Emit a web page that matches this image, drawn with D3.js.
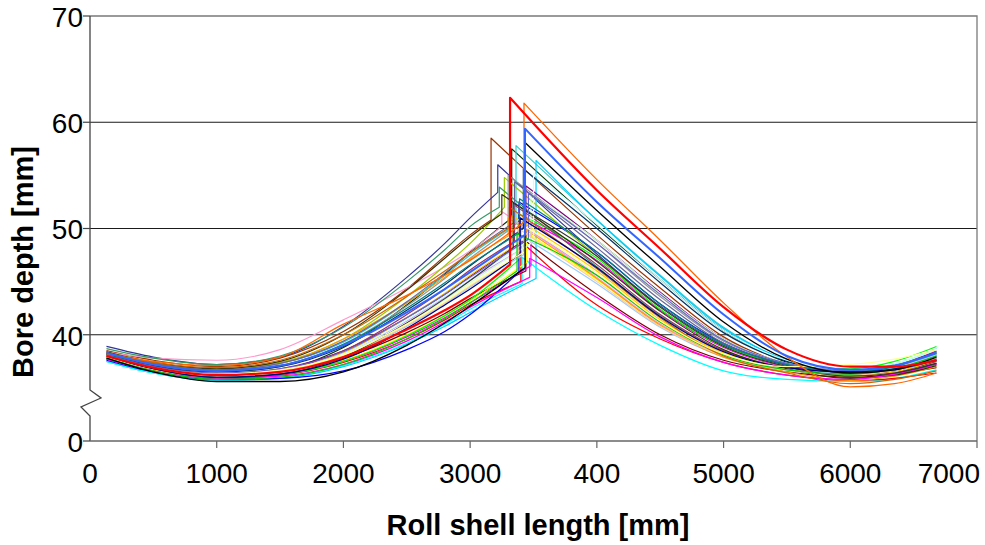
<!DOCTYPE html>
<html>
<head>
<meta charset="utf-8">
<script src="https://cdn.jsdelivr.net/npm/d3@7/dist/d3.min.js"></script>
<style>
  html, body { margin: 0; padding: 0; background: #fff; }
  svg { display: block; font-family: "Liberation Sans", Arial, sans-serif; }
</style>
</head>
<body>
<svg id="chart" width="985" height="545"></svg>
<script>
// Measurement positions along the roll shell [mm]
const leftX = [130, 500, 1000, 1500, 2000, 2500, 2800, 3000];
const rightX = [4000, 4500, 5000, 5500, 6000, 6350, 6680];

// Position of the step in each bore profile [mm] and depth just before / after it [mm]
const jumpX    = [3315, 3425, 3433, 3433, 3165, 3218, 3328, 3362, 3520, 3410,
                  3400, 3440, 3445, 3480, 3380, 3385, 3250, 3270, 3230, 3440,
                  3300, 3350, 3400, 3420, 3330, 3300, 3420, 3250, 3480, 3500,
                  3380, 3470, 3350, 3340, 3460, 3390, 3370, 3310, 3395, 3430];
const jumpLow  = [46.6, 50.6, 49.4, 46.3, 50.8, 53.4, 51.0, 50.4, 45.3, 44.8,
                  45.0, 46.0, 46.8, 46.5, 47.0, 45.9, 50.2, 52.0, 52.0, 49.0,
                  49.8, 48.8, 48.0, 47.5, 48.2, 49.3, 50.0, 51.4, 48.6, 49.2,
                  47.4, 45.4, 50.6, 48.2, 49.0, 49.6, 46.0, 50.1, 47.6, 47.8];
const jumpHigh = [62.3, 61.8, 59.4, 58.1, 58.5, 56.0, 57.5, 57.8, 56.4, 47.3,
                  48.8, 48.8, 49.6, 50.6, 51.4, 52.5, 51.6, 54.8, 53.9, 54.0,
                  55.0, 52.2, 50.4, 49.2, 51.2, 51.0, 55.6, 53.2, 53.2, 55.2,
                  50.0, 47.2, 54.4, 52.4, 53.4, 52.8, 49.5, 52.0, 51.0, 50.2];

// Bore depth [mm] at leftX, one row per roll
const leftDepth = [
  [38.0, 36.9, 36.2, 36.5, 37.9, 40.5, 42.3, 43.7],
  [38.2, 37.5, 37.1, 37.9, 41.0, 43.7, 45.6, 47.0],
  [38.3, 37.2, 36.6, 37.1, 39.0, 42.1, 44.3, 45.9],
  [37.8, 36.5, 35.6, 35.6, 36.5, 39.0, 41.1, 42.7],
  [38.5, 37.6, 37.0, 37.8, 40.3, 44.3, 47.4, 49.4],
  [38.9, 37.9, 37.2, 37.9, 40.8, 45.4, 48.6, 51.0],
  [38.2, 37.1, 36.3, 36.7, 38.8, 42.8, 45.7, 47.8],
  [38.3, 37.3, 36.7, 37.3, 39.3, 43.0, 45.6, 47.5],
  [37.5, 36.4, 35.7, 35.9, 37.0, 39.1, 40.8, 42.1],
  [37.5, 36.4, 35.7, 36.0, 37.1, 39.2, 41.0, 42.4],
  [37.7, 36.6, 35.9, 36.2, 37.4, 39.6, 41.4, 42.8],
  [37.9, 36.8, 36.1, 36.4, 37.8, 40.2, 42.0, 43.4],
  [37.8, 36.7, 36.0, 36.3, 37.6, 40.0, 41.8, 43.2],
  [37.9, 36.8, 36.1, 36.3, 37.5, 39.8, 41.6, 43.0],
  [38.1, 36.9, 36.1, 36.3, 37.5, 39.9, 41.8, 43.3],
  [37.6, 36.5, 35.8, 35.9, 36.6, 38.6, 40.3, 41.9],
  [38.4, 37.8, 37.6, 38.6, 41.4, 44.4, 46.4, 47.9],
  [38.4, 37.4, 36.8, 37.4, 39.6, 43.6, 46.5, 48.6],
  [38.7, 37.8, 37.2, 38.0, 40.7, 45.0, 48.0, 50.2],
  [38.0, 36.9, 36.3, 36.8, 38.5, 41.6, 43.8, 45.5],
  [38.2, 37.2, 36.5, 37.0, 39.1, 42.7, 45.3, 47.2],
  [38.1, 37.0, 36.3, 36.7, 38.5, 41.9, 44.3, 46.1],
  [38.0, 36.9, 36.2, 36.6, 38.2, 41.3, 43.5, 45.1],
  [37.9, 36.8, 36.1, 36.4, 37.9, 40.8, 42.9, 44.5],
  [38.0, 36.9, 36.2, 36.6, 38.3, 41.6, 43.9, 45.6],
  [38.3, 37.3, 36.7, 37.3, 39.6, 43.0, 45.4, 47.1],
  [38.2, 37.1, 36.5, 37.0, 38.9, 42.3, 44.7, 46.5],
  [38.4, 37.4, 36.8, 37.5, 40.0, 44.2, 47.2, 49.2],
  [37.9, 36.8, 36.1, 36.5, 38.1, 41.1, 43.3, 44.9],
  [38.0, 36.9, 36.2, 36.6, 38.2, 41.4, 43.6, 45.2],
  [37.9, 36.8, 36.2, 36.6, 38.0, 40.9, 43.0, 44.6],
  [37.7, 36.6, 35.9, 36.1, 37.2, 39.4, 41.2, 42.6],
  [38.3, 37.3, 36.7, 37.3, 39.4, 43.1, 45.8, 47.7],
  [38.0, 36.8, 36.0, 36.3, 37.9, 41.1, 43.4, 45.1],
  [38.1, 37.0, 36.4, 36.8, 38.4, 41.6, 43.8, 45.4],
  [38.2, 37.2, 36.6, 37.1, 39.1, 42.5, 44.9, 46.6],
  [37.8, 36.6, 35.8, 36.0, 37.2, 39.6, 41.5, 43.0],
  [38.3, 37.4, 36.9, 37.6, 40.0, 43.6, 46.0, 47.7],
  [38.0, 36.8, 36.0, 36.3, 37.7, 40.6, 42.8, 44.3],
  [38.0, 36.9, 36.3, 36.7, 38.1, 41.0, 43.1, 44.7]
];

// Bore depth [mm] at rightX, one row per roll
const rightDepth = [
  [53.6, 48.1, 42.6, 38.6, 37.0, 37.0, 37.6],
  [54.6, 48.9, 43.0, 37.9, 35.1, 35.4, 36.4],
  [52.5, 47.2, 41.9, 38.0, 36.7, 37.1, 38.3],
  [51.7, 46.4, 41.2, 37.7, 36.4, 36.7, 37.9],
  [49.4, 44.4, 39.8, 37.2, 36.0, 36.3, 37.2],
  [47.6, 42.7, 39.0, 37.1, 36.3, 36.8, 37.8],
  [50.3, 45.2, 40.4, 37.4, 36.1, 36.4, 37.3],
  [50.8, 45.6, 40.7, 37.6, 36.6, 37.2, 38.7],
  [50.8, 45.5, 40.6, 37.6, 36.3, 36.9, 38.1],
  [42.3, 39.0, 36.6, 35.8, 35.6, 35.9, 36.7],
  [42.8, 39.6, 37.4, 36.2, 35.7, 35.9, 36.4],
  [43.8, 40.0, 37.6, 36.5, 36.0, 36.3, 36.9],
  [45.2, 41.0, 38.2, 36.8, 36.4, 37.1, 38.4],
  [47.0, 42.3, 38.8, 37.0, 36.5, 37.1, 38.5],
  [47.2, 42.4, 38.9, 37.3, 36.8, 37.5, 38.9],
  [47.8, 42.9, 39.2, 37.2, 36.4, 36.9, 38.0],
  [45.4, 41.0, 38.0, 36.8, 36.4, 37.0, 38.2],
  [47.4, 42.6, 38.9, 37.0, 36.1, 36.5, 37.5],
  [46.4, 41.8, 38.4, 36.8, 36.3, 36.9, 38.2],
  [48.9, 44.0, 39.6, 37.3, 36.7, 37.2, 38.4],
  [48.6, 43.6, 39.4, 37.3, 36.5, 36.9, 38.0],
  [46.6, 41.9, 38.5, 36.9, 36.2, 36.5, 37.5],
  [45.6, 41.2, 38.2, 36.8, 36.3, 36.7, 37.7],
  [44.8, 40.7, 37.9, 36.7, 36.4, 36.9, 38.1],
  [46.0, 41.4, 38.3, 36.8, 36.1, 36.5, 37.6],
  [45.3, 40.9, 37.9, 36.5, 35.7, 36.1, 37.0],
  [50.0, 44.9, 40.2, 37.5, 36.4, 36.7, 37.6],
  [46.9, 42.2, 38.6, 36.8, 35.9, 36.2, 37.1],
  [48.9, 43.9, 39.6, 37.3, 36.6, 37.2, 38.6],
  [50.4, 45.2, 40.4, 37.6, 36.7, 37.3, 38.7],
  [45.0, 40.8, 38.0, 36.7, 36.2, 36.7, 37.8],
  [43.5, 39.8, 37.4, 36.2, 35.8, 36.3, 37.2],
  [48.2, 43.3, 39.2, 37.2, 36.4, 36.7, 37.7],
  [47.4, 42.6, 38.9, 37.0, 36.1, 36.4, 37.3],
  [48.6, 43.8, 39.5, 37.3, 36.6, 37.1, 38.3],
  [47.8, 42.9, 39.1, 37.2, 36.5, 37.0, 38.4],
  [45.6, 41.2, 38.1, 36.7, 36.3, 36.8, 38.0],
  [46.2, 41.6, 38.0, 36.4, 35.4, 35.8, 36.6],
  [46.3, 41.7, 38.4, 36.9, 36.5, 36.8, 37.6],
  [45.8, 41.3, 38.2, 37.0, 37.2, 37.7, 38.6]
];

const lineColors = [
  "#FF0000", "#FF6600", "#3366FF", "#000000", "#993300", "#333399", "#003300", "#33CCCC", "#00CCFF", "#00FFFF",
  "#FF0000", "#800000", "#FFFF00", "#FF00FF", "#00FF00", "#0000FF", "#FF99CC", "#99CC00", "#339966", "#800080",
  "#969696", "#993366", "#CC99FF", "#99CCFF", "#FFCC00", "#FF9900", "#003366", "#333300", "#CCFFCC", "#CCFFFF",
  "#FFCC99", "#FF00FF", "#666699", "#333333", "#6666CC", "#008080", "#00CC00", "#CC6600", "#000080", "#FFFF99"
];
const lineWidths = [2.2, 1.3, 2.0, 1.3];

// Axis ticks; the bottom value stands in for the broken part of the axis
const yTickValues = [30, 40, 50, 60, 70];
const yTickLabels = ["0", "40", "50", "60", "70"];
const xTickValues = [0, 1000, 2000, 3000, 4000, 5000, 6000, 7000];
const xTickLabels = ["0", "1000", "2000", "3000", "400", "5000", "6000", "7000"];
const gridValues = [40, 50, 60];

const svg = d3.select("#chart");
const plotLeft = 90, plotRight = 977, plotTop = 16, plotBottom = 441;

const x = d3.scaleLinear().domain([0, 7000]).range([plotLeft, plotRight]);
const y = d3.scaleLinear().domain([30, 70]).range([plotBottom, plotTop]);

// Horizontal gridlines
svg.append("g").selectAll("line").data(gridValues).join("line")
  .attr("x1", plotLeft).attr("x2", plotRight)
  .attr("y1", d => y(d)).attr("y2", d => y(d))
  .attr("stroke", "#1a1a1a").attr("stroke-width", 1.2);

// Plot frame: top and right edges
svg.append("path")
  .attr("d", `M${plotLeft},${y(70)}H${plotRight}V${plotBottom}`)
  .attr("fill", "none").attr("stroke", "#7a7a7a").attr("stroke-width", 1.3);

// Bore depth profiles
const line = d3.line().x(d => x(d[0])).y(d => y(d[1])).curve(d3.curveMonotoneX);
const order = d3.range(4, jumpX.length).concat([3, 1, 2, 0]);
svg.append("g").selectAll("path").data(order).join("path")
  .attr("d", i => {
    const lp = leftX.map((v, j) => [v, leftDepth[i][j]]).concat([[jumpX[i], jumpLow[i]]]);
    const rp = [[jumpX[i], jumpHigh[i]]].concat(rightX.map((v, j) => [v, rightDepth[i][j]]));
    return line(lp) + line(rp).replace(/^M/, "L");
  })
  .attr("fill", "none")
  .attr("stroke", i => lineColors[i])
  .attr("stroke-width", i => lineWidths[i] || 1.2)
  .attr("stroke-linejoin", "round");

// Y axis with break symbol
const brk = [34.8, 34.05, 33.2, 32.35];
svg.append("path")
  .attr("d", `M${plotLeft},${y(70)}V${y(brk[0])}L${plotLeft + 11},${y(brk[1])}L${plotLeft - 9},${y(brk[2])}L${plotLeft},${y(brk[3])}V${plotBottom}`)
  .attr("fill", "none").attr("stroke", "#444").attr("stroke-width", 1.3);

// X axis line
svg.append("line")
  .attr("x1", plotLeft).attr("x2", plotRight).attr("y1", plotBottom).attr("y2", plotBottom)
  .attr("stroke", "#666").attr("stroke-width", 1.6);

// Y ticks and labels
const yAx = svg.append("g");
yAx.selectAll("line").data(yTickValues).join("line")
  .attr("x1", plotLeft - 7).attr("x2", plotLeft)
  .attr("y1", d => y(d)).attr("y2", d => y(d))
  .attr("stroke", "#444").attr("stroke-width", 1.2);
yAx.selectAll("text").data(yTickValues).join("text")
  .attr("x", 83).attr("y", d => y(d) + 1)
  .attr("dy", "0.35em")
  .attr("text-anchor", "end")
  .attr("font-size", 28)
  .text((d, i) => yTickLabels[i]);

// X ticks and labels (the last one is pulled inside the right edge)
const xAx = svg.append("g");
xAx.selectAll("line").data(xTickValues.slice(1)).join("line")
  .attr("x1", d => x(d)).attr("x2", d => x(d))
  .attr("y1", plotBottom).attr("y2", plotBottom + 7)
  .attr("stroke", "#666").attr("stroke-width", 1.2);
const lastTick = xTickValues.length - 1;
xAx.selectAll("text").data(xTickValues).join("text")
  .attr("x", (d, i) => i === lastTick ? x(d) + 3 : x(d))
  .attr("y", 483)
  .attr("text-anchor", (d, i) => i === lastTick ? "end" : "middle")
  .attr("font-size", 28)
  .text((d, i) => xTickLabels[i]);

// Axis titles
svg.append("text")
  .attr("transform", "translate(33,262) rotate(-90)")
  .attr("text-anchor", "middle")
  .attr("font-size", 29).attr("font-weight", "bold")
  .text("Bore depth [mm]");
svg.append("text")
  .attr("x", 538).attr("y", 535)
  .attr("text-anchor", "middle")
  .attr("font-size", 29).attr("font-weight", "bold")
  .text("Roll shell length [mm]");
</script>
</body>
</html>
